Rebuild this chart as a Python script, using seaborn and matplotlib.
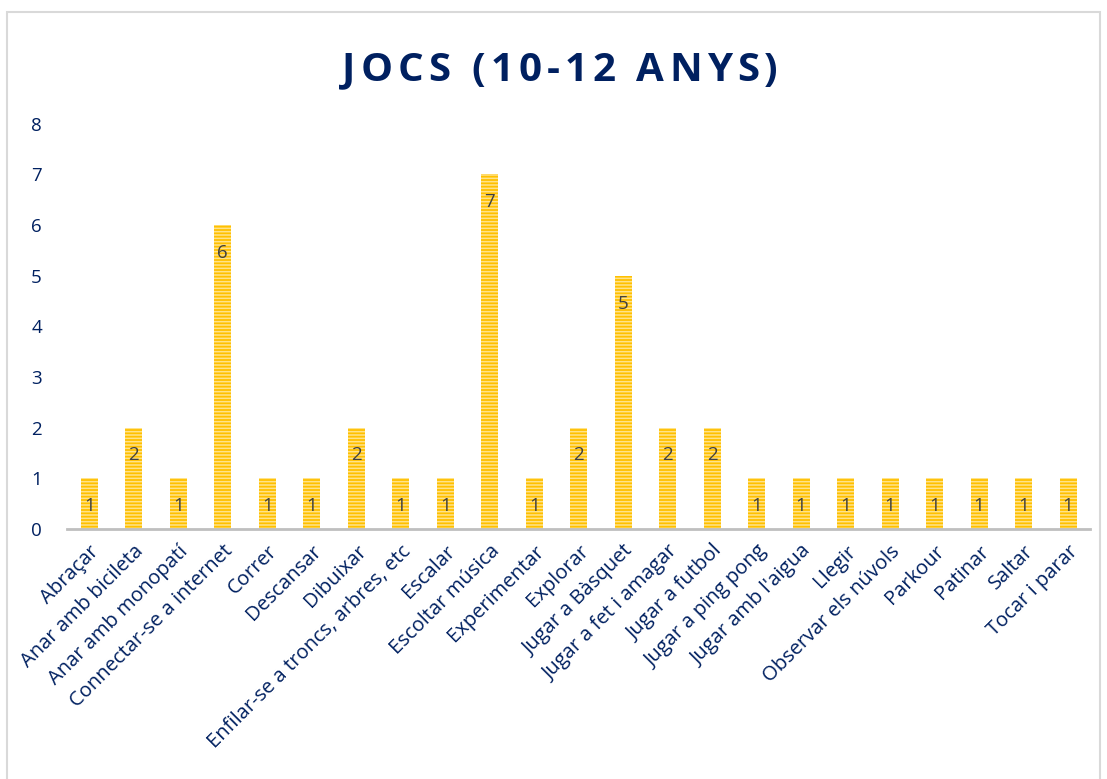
import matplotlib
matplotlib.use("Agg")
import matplotlib.pyplot as plt
import seaborn as sns
import pandas as pd
from matplotlib.patches import Rectangle

# Data
categories = [
    "Abraçar", "Anar amb bicileta", "Anar amb monopatí", "Connectar-se a internet",
    "Correr", "Descansar", "Dibuixar", "Enfilar-se a troncs, arbres, etc",
    "Escalar", "Escoltar música", "Experimentar", "Explorar", "Jugar a Bàsquet",
    "Jugar a fet i amagar", "Jugar a futbol", "Jugar a ping pong",
    "Jugar amb l'aigua", "Llegir", "Observar els núvols", "Parkour",
    "Patinar", "Saltar", "Tocar i parar",
]
values = [1, 2, 1, 6, 1, 1, 2, 1, 1, 7, 1, 2, 5, 2, 2, 1, 1, 1, 1, 1, 1, 1, 1]
y_ticks = [0, 1, 2, 3, 4, 5, 6, 7, 8]

title = "JOCS (10-12 ANYS)"
navy = "#002060"

df = pd.DataFrame({"activitat": categories, "n": values})

sns.set_style("white")
plt.rcParams["font.family"] = ["Open Sans", "DejaVu Sans"]
plt.rcParams["hatch.linewidth"] = 1.1

fig = plt.figure(figsize=(11.07, 7.79), dpi=100)
ax = fig.add_axes([0.0605, 0.321, 0.9245, 0.520])

sns.barplot(data=df, x="activitat", y="n", color="#FFC000", width=0.38,
            saturation=1, ax=ax)

for p in ax.patches:
    p.set_hatch("-----")
    p.set_edgecolor("#FFE38A")
    p.set_linewidth(0)

# value labels inside bars
for i, v in enumerate(values):
    ax.annotate(str(v), xy=(i, v), xytext=(0, -20), textcoords="offset points",
                ha="center", va="center", fontsize=13.5, color="#404040")

ax.set_xlim(-0.5, len(categories) - 0.5)
ax.set_ylim(0, 8)
ax.set_yticks(y_ticks)
ax.set_xlabel("")
ax.set_ylabel("")
ax.tick_params(axis="y", length=0, pad=18, labelsize=13.5, labelcolor=navy)
ax.tick_params(axis="x", length=0, pad=9, labelsize=14.5, labelcolor=navy)
for lbl in ax.get_xticklabels():
    lbl.set_rotation(45)
    lbl.set_ha("right")
    lbl.set_rotation_mode("anchor")

for s in ["top", "right", "left"]:
    ax.spines[s].set_visible(False)
ax.spines["bottom"].set_color("#BFBFBF")
ax.spines["bottom"].set_linewidth(2)

# title with wide letter spacing, drawn as one string per glyph
title_size = 29
fig.canvas.draw()
renderer = fig.canvas.get_renderer()
widths = []
for ch in title:
    t = fig.text(0, 0, ch, fontsize=title_size, fontweight="bold")
    widths.append(t.get_window_extent(renderer).width if ch != " " else 11)
    t.remove()
gap = 5
total = sum(widths) + gap * (len(title) - 1)
x = 560 - total / 2
for ch, w in zip(title, widths):
    fig.text(x / 1107, 0.91, ch, ha="left", va="center", fontsize=title_size,
             fontweight="bold", color=navy)
    x += w + gap

# chart border
fig.patches.append(Rectangle((0.006, -0.01), 0.988, 0.995, transform=fig.transFigure,
                             fill=False, edgecolor="#D9D9D9", linewidth=1.5))

fig.savefig("out.png", dpi=100)
